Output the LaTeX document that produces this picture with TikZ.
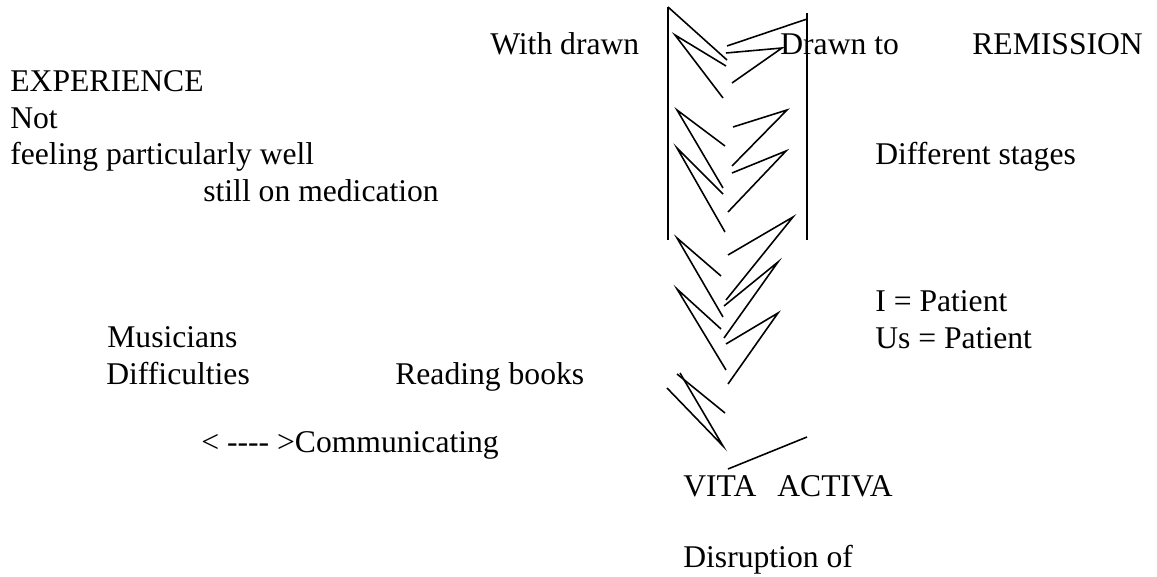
\documentclass[tikz,border=0pt]{standalone}
\usepackage{fontspec}
\setmainfont{Liberation Serif}
\usepackage{tikz}

\tikzset{
  note/.style={anchor=base west, inner sep=0pt, font=\fontsize{18}{21}\selectfont},
  stroke/.style={line width=0.9pt, line join=miter}
}

\begin{document}
\begin{tikzpicture}[x=0.02cm, y=-0.02cm]
        \useasboundingbox (0,0) rectangle (1157,577);
        % texts
        \node[note] (withdrawn) at (490,55) {With drawn};
        \node[note] (drawnto) at (780,55) {Drawn to};
        \node[note] (remission) at (972,55) {REMISSION};
        \node[note] (experience) at (10,92) {EXPERIENCE};
        \node[note] (not) at (10,129) {Not};
        \node[note] (feeling) at (10,165) {feeling particularly well};
        \node[note] (medication) at (203,202) {still on medication};
        \node[note] (stages) at (875,165) {Different stages};
        \node[note] (ipatient) at (875,312) {I = Patient};
        \node[note] (uspatient) at (875,349) {Us = Patient};
        \node[note] (musicians) at (107,348) {Musicians};
        \node[note] (difficulties) at (106,385) {Difficulties};
        \node[note] (reading) at (395,385) {Reading books};
        \node[note] (communicating) at (201,453) {< -\kern0pt-\kern0pt-\kern0pt- >Communicating};
        \node[note] (vita) at (683,497) {VITA\hspace{12pt}ACTIVA};
        \node[note] (disruption) at (683,568) {Disruption of};
        % the two uprights
        \draw[stroke] (668,7) -- (668,240);
        \draw[stroke] (807,13) -- (807,240);
        % zigzags, top to bottom
        \draw[stroke] (668,7) -- (727,60);
        \draw[stroke] (726,66) -- (675,35) -- (723,98);
        \draw[stroke] (727,46) -- (807,19);
        \draw[stroke] (726,53) -- (782,48) -- (732,83);
        \draw[stroke] (725,146) -- (677,110) -- (723,188);
        \draw[stroke] (733,127) -- (787,110) -- (732,166);
        \draw[stroke] (723,194) -- (677,148) -- (725,232);
        \draw[stroke] (732,173) -- (786,151) -- (728,212);
        \draw[stroke] (721,276) -- (677,238) -- (723,317);
        \draw[stroke] (728,255) -- (793,217) -- (726,300);
        \draw[stroke] (724,306) -- (778,262) -- (724,338);
        \draw[stroke] (721,329) -- (677,289) -- (726,370);
        \draw[stroke] (726,344) -- (778,313) -- (728,384);
        \draw[stroke] (725,413) -- (677,374);
        \draw[stroke] (680,373) -- (723,446) -- (667,388);
        \draw[stroke] (728,469) -- (807,437);
    \end{tikzpicture}
\end{document}
